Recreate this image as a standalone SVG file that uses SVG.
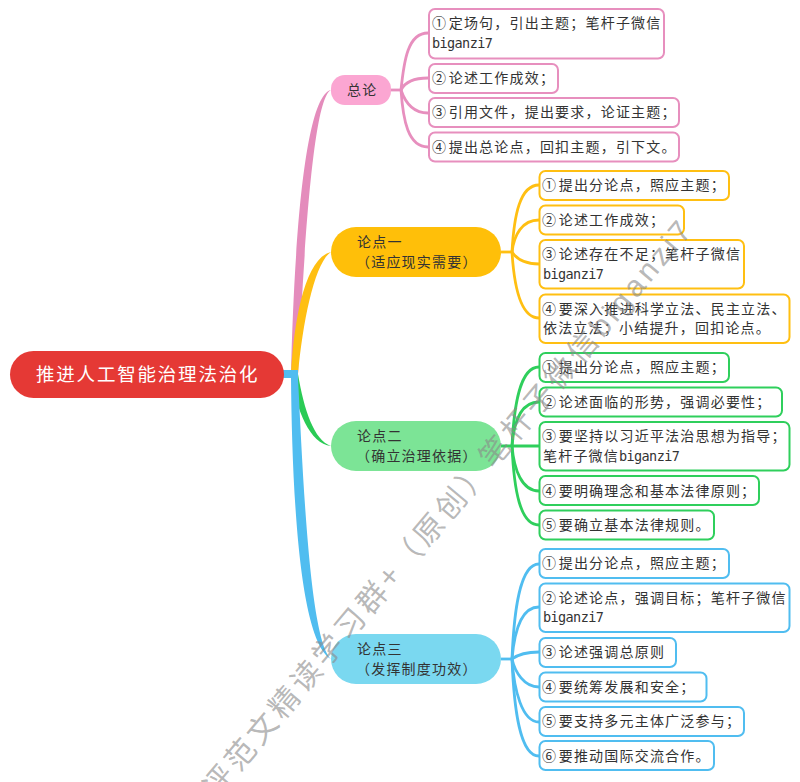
<svg xmlns="http://www.w3.org/2000/svg" width="800" height="782" viewBox="0 0 800 782">
<style>
text{font-family:"Noto Sans CJK SC","Noto Sans",sans-serif;font-size:14px;letter-spacing:1.2px;fill:#333}
.l{font-family:"DejaVu Sans Mono",monospace;font-size:13.5px;letter-spacing:-.6px}
.root{fill:#fff;font-size:18.5px;letter-spacing:1.8px}
.b{fill:#fff;stroke-width:2}
.c{fill:none;stroke-width:2.8}
.pk{stroke:#E78FBE}.yl{stroke:#FFBF12}.gn{stroke:#2FCF5C}.bl{stroke:#50BDF0}
.wm{font-size:30px;letter-spacing:4.1px;fill:#8a8a8a;fill-opacity:.62}
.wl{font-family:"Liberation Sans",sans-serif;font-size:30px;letter-spacing:4px;fill:#8a8a8a;fill-opacity:.62}
</style>
<rect width="800" height="782" fill="#fff"/>
<g id="connectors">
<path fill="#E48CBC" d="M291,374C294,250 304,96 331,90C313,98 304,250 298,374Z"/>
<path fill="#FFBF12" d="M291,374C294,320 305,258 331,252C315,262 303,320 298,374Z"/>
<path fill="#2ACB55" d="M291,374C296,410 310,444 331,446C314,440 304,410 298,374Z"/>
<path fill="#50BDF0" d="M291,378C292,480 298,640 331,659C310,640 303,480 298,378Z"/>
<rect x="283" y="370" width="15" height="8" fill="#50BDF0"/>
<g class="c pk">
<path d="M391,90H401"/>
<path d="M401,90C404,60 408,33 428,33"/>
<path d="M401,90C404,84 410,78 428,78"/>
<path d="M401,90C405,102 412,113 428,113"/>
<path d="M401,90C403,120 408,147 428,147"/>
</g>
<g class="c yl">
<path d="M501,252H512"/>
<path d="M512,252C514,215 520,185 539,185"/>
<path d="M512,252C514,235 522,220 539,220"/>
<path d="M512,252C516,258 524,264 539,264"/>
<path d="M512,252C514,285 520,318 539,318"/>
</g>
<g class="c gn">
<path d="M501,446H539"/>
<path d="M512,446C514,405 520,367 539,367"/>
<path d="M512,446C514,420 522,402 539,402"/>
<path d="M512,446C514,470 522,491 539,491"/>
<path d="M512,446C514,490 520,525 539,525"/>
</g>
<g class="c bl">
<path d="M501,659H512"/>
<path d="M512,659C514,610 520,564 539,564"/>
<path d="M512,659C514,635 520,607 539,607"/>
<path d="M512,659C516,656 524,652 539,652"/>
<path d="M512,659C515,672 524,687 539,687"/>
<path d="M512,659C514,690 522,722 539,722"/>
<path d="M512,659C514,710 520,756 539,756"/>
</g>
</g>
<g id="root"><rect x="10" y="351" width="274" height="47" rx="23.5" fill="#E53935"/><text class="root" x="36" y="380.500">推进人工智能治理法治化</text></g>
<g id="zonglun"><rect x="331" y="75" width="60" height="30" rx="14" fill="#FBA6D2"/><text x="347" y="95">总论</text></g>
<g id="lundian1"><rect x="331" y="227" width="170" height="50" rx="25" fill="#FFBF09"/><text x="357" y="247">论点一</text><text x="356" y="267">（适应现实需要）</text></g>
<g id="lundian2"><rect x="331" y="421" width="170" height="50" rx="25" fill="#7CE496"/><text x="357" y="441">论点二</text><text x="356" y="461">（确立治理依据）</text></g>
<g id="lundian3"><rect x="331" y="634" width="170" height="50" rx="25" fill="#7AD8F0"/><text x="357" y="654">论点三</text><text x="356" y="674">（发挥制度功效）</text></g>

<g id="p1"><rect class="b pk" x="429" y="9" width="235" height="49.500" rx="6"/><text x="432" y="28">①<tspan dx="1.500">定场句，引出主题；笔杆子微信</tspan></text><text class="l" x="432" y="48">biganzi7</text></g>
<g id="p2"><rect class="b pk" x="429" y="64" width="129" height="29" rx="6"/><text x="432" y="83">②<tspan dx="1.500">论述工作成效；</tspan></text></g>
<g id="p3"><rect class="b pk" x="429" y="98" width="250" height="29" rx="6"/><text x="432" y="117">③<tspan dx="1.500">引用文件，提出要求，论证主题；</tspan></text></g>
<g id="p4"><rect class="b pk" x="429" y="132.500" width="250" height="29" rx="6"/><text x="432" y="152">④<tspan dx="1.500">提出总论点，回扣主题，引下文。</tspan></text></g>

<g id="y1"><rect class="b yl" x="539.500" y="171" width="189.500" height="29" rx="6"/><text x="542" y="190">①<tspan dx="1.500">提出分论点，照应主题；</tspan></text></g>
<g id="y2"><rect class="b yl" x="539.500" y="205.500" width="144.500" height="29" rx="6"/><text x="542" y="225">②<tspan dx="1.500">论述工作成效；</tspan></text></g>
<g id="y3"><rect class="b yl" x="539.500" y="240" width="204.500" height="48.500" rx="6"/><text x="542" y="259">③<tspan dx="1.500">论述存在不足；笔杆子微信</tspan></text><text class="l" x="543" y="279">biganzi7</text></g>
<g id="y4"><rect class="b yl" x="539.500" y="294.500" width="250" height="48.500" rx="6"/><text x="542" y="314">④<tspan dx="1.500">要深入推进科学立法、民主立法、</tspan></text><text x="543" y="333">依法立法；小结提升，回扣论点。</text></g>

<g id="g1"><rect class="b gn" x="539.500" y="353" width="189.500" height="29" rx="6"/><text x="542" y="372">①<tspan dx="1.500">提出分论点，照应主题；</tspan></text></g>
<g id="g2"><rect class="b gn" x="539.500" y="387.500" width="242.500" height="29" rx="6"/><text x="542" y="407">②<tspan dx="1.500">论述面临的形势，强调必要性；</tspan></text></g>
<g id="g3"><rect class="b gn" x="539.500" y="422" width="250" height="48.500" rx="6"/><text x="542" y="441">③<tspan dx="1.500">要坚持以习近平法治思想为指导；</tspan></text><text x="543" y="461">笔杆子微信<tspan class="l">biganzi7</tspan></text></g>
<g id="g4"><rect class="b gn" x="539.500" y="476" width="219.500" height="29" rx="6"/><text x="542" y="496">④<tspan dx="1.500">要明确理念和基本法律原则；</tspan></text></g>
<g id="g5"><rect class="b gn" x="539.500" y="510.500" width="174.500" height="29" rx="6"/><text x="542" y="530">⑤<tspan dx="1.500">要确立基本法律规则。</tspan></text></g>

<g id="b1"><rect class="b bl" x="539.500" y="549" width="189.500" height="29" rx="6"/><text x="542" y="568">①<tspan dx="1.500">提出分论点，照应主题；</tspan></text></g>
<g id="b2"><rect class="b bl" x="539.500" y="583.500" width="250" height="48.500" rx="6"/><text x="542" y="603">②<tspan dx="1.500">论述论点，强调目标；笔杆子微信</tspan></text><text class="l" x="543" y="622">biganzi7</text></g>
<g id="b3"><rect class="b bl" x="539.500" y="638" width="136.500" height="29" rx="6"/><text x="542" y="657">③<tspan dx="1.500">论述强调总原则</tspan></text></g>
<g id="b4"><rect class="b bl" x="539.500" y="672.500" width="167" height="29" rx="6"/><text x="542" y="692">④<tspan dx="1.500">要统筹发展和安全；</tspan></text></g>
<g id="b5"><rect class="b bl" x="539.500" y="707" width="204.500" height="29" rx="6"/><text x="542" y="726">⑤<tspan dx="1.500">要支持多元主体广泛参与；</tspan></text></g>
<g id="b6"><rect class="b bl" x="539.500" y="741" width="174.500" height="29" rx="6"/><text x="542" y="761">⑥<tspan dx="1.500">要推动国际交流合作。</tspan></text></g>

<text class="wm" transform="translate(217,799) rotate(-50)">评范文精读学习群+（原创）笔杆子微信<tspan class="wl">biganzi7</tspan></text>
</svg>
